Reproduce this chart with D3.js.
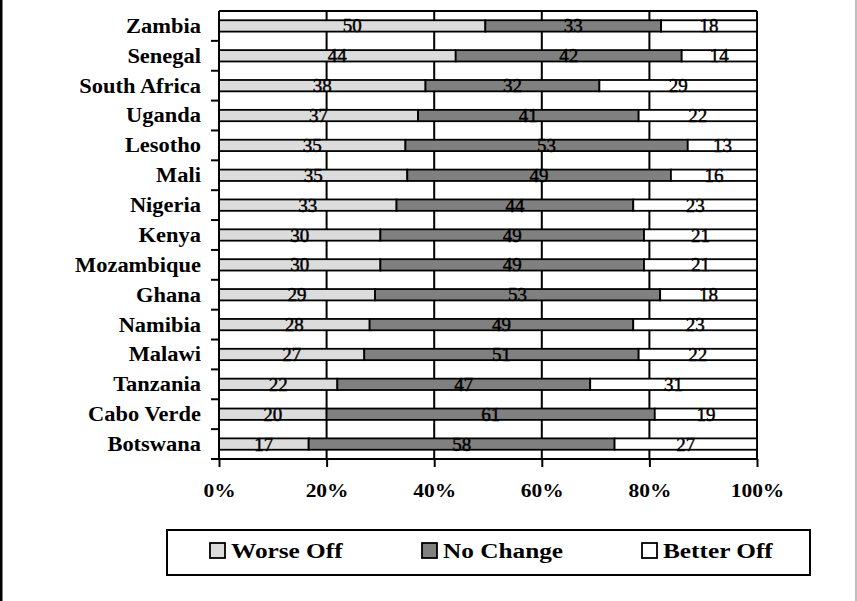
<!DOCTYPE html>
<html>
<head>
<meta charset="utf-8">
<script src="https://cdn.jsdelivr.net/npm/d3@7"></script>
<style>
  html, body { margin: 0; padding: 0; background: #fff; }
  svg { display: block; }
</style>
</head>
<body>
<svg id="chart" width="857" height="601"></svg>
<script>
// Survey responses by country (percent)
const countries = ["Zambia", "Senegal", "South Africa", "Uganda", "Lesotho", "Mali", "Nigeria",
  "Kenya", "Mozambique", "Ghana", "Namibia", "Malawi", "Tanzania", "Cabo Verde", "Botswana"];
const worseOff  = [50, 44, 38, 37, 35, 35, 33, 30, 30, 29, 28, 27, 22, 20, 17];
const noChange  = [33, 42, 32, 41, 53, 49, 44, 49, 49, 53, 49, 51, 47, 61, 58];
const betterOff = [18, 14, 29, 22, 13, 16, 23, 21, 21, 18, 23, 22, 31, 19, 27];
const seriesNames = ["Worse Off", "No Change", "Better Off"];
const seriesColors = ["#dcdcdc", "#808080", "#ffffff"];
const xTicks = [0, 0.2, 0.4, 0.6, 0.8, 1];

const rows = countries.map((c, i) => ({
  country: c,
  "Worse Off": worseOff[i],
  "No Change": noChange[i],
  "Better Off": betterOff[i]
}));

const svg = d3.select("#chart");
const serif = "'Liberation Serif', 'Times New Roman', serif";

// widen glyphs horizontally around their anchor point
function widen(sel, sx) {
  sel.each(function () {
    const t = d3.select(this);
    const ax = +t.attr("x") || 0;
    t.attr("transform", `translate(${ax},0) scale(${sx},1) translate(${-ax},0)`);
  });
}

// outer frame edges
svg.append("rect").attr("x", 0).attr("y", 0).attr("width", 2.5).attr("height", 601).attr("fill", "#000");
svg.append("rect").attr("x", 855.5).attr("y", 0).attr("width", 1).attr("height", 601).attr("fill", "#808080");

const plot = { left: 219, right: 757, top: 11, bottom: 459 };

const x = d3.scaleLinear().domain([0, 1]).range([plot.left, plot.right]);
const y = d3.scaleBand().domain(countries).range([plot.top, plot.bottom])
  .paddingInner(0.62).paddingOuter(0.31);

const stack = d3.stack().keys(seriesNames).offset(d3.stackOffsetExpand);
const layers = stack(rows);

// vertical gridlines and plot border
const grid = svg.append("g");
grid.selectAll("line.g").data(xTicks.slice(1)).join("line")
  .attr("x1", d => x(d)).attr("x2", d => x(d))
  .attr("y1", plot.top).attr("y2", plot.bottom)
  .attr("stroke", "#000").attr("stroke-width", 2);
grid.append("line")
  .attr("x1", plot.left).attr("x2", plot.right)
  .attr("y1", plot.top).attr("y2", plot.top)
  .attr("stroke", "#000").attr("stroke-width", 2);

// stacked bars
const barG = svg.append("g");
layers.forEach((layer, k) => {
  barG.append("g").selectAll("rect").data(layer).join("rect")
    .attr("x", d => x(d[0]))
    .attr("y", d => y(d.data.country))
    .attr("width", d => x(d[1]) - x(d[0]))
    .attr("height", y.bandwidth())
    .attr("fill", seriesColors[k])
    .attr("stroke", "#000")
    .attr("stroke-width", 1.8);
});

// value labels
layers.forEach((layer, k) => {
  svg.append("g").selectAll("text").data(layer).join("text")
    .attr("x", d => (x(d[0]) + x(d[1])) / 2)
    .attr("y", d => y(d.data.country) + y.bandwidth() / 2 + 6.5)
    .attr("text-anchor", "middle")
    .attr("font-family", serif)
    .attr("font-size", 19)
    .attr("fill", "#000")
    .attr("stroke", "#000")
    .attr("stroke-width", 0.45)
    .text(d => d.data[layer.key]);
});

// left axis: country names
const yAxis = svg.append("g").attr("transform", `translate(${plot.left},0)`)
  .call(d3.axisLeft(y).tickSize(0).tickPadding(18));
yAxis.select(".domain").remove();
yAxis.selectAll("text")
  .attr("font-family", serif).attr("font-weight", "bold").attr("font-size", 21)
  .attr("fill", "#000").attr("dy", "0.33em")
  .call(widen, 1.07);

// left axis line with ticks at category boundaries
const boundaries = countries.map(c => y(c) - (y.step() - y.bandwidth()) / 2)
  .concat([plot.bottom]);
svg.append("line")
  .attr("x1", plot.left).attr("x2", plot.left)
  .attr("y1", plot.top).attr("y2", plot.bottom)
  .attr("stroke", "#000").attr("stroke-width", 2);
svg.append("g").selectAll("line").data(boundaries.slice(1)).join("line")
  .attr("x1", plot.left - 8).attr("x2", plot.left)
  .attr("y1", d => d).attr("y2", d => d)
  .attr("stroke", "#000").attr("stroke-width", 2);

// bottom axis
const xAxis = svg.append("g").attr("transform", `translate(0,${plot.bottom})`)
  .call(d3.axisBottom(x).tickValues(xTicks).tickFormat(d3.format(".0%")).tickSize(8).tickPadding(17));
xAxis.select(".domain").attr("stroke", "#000").attr("stroke-width", 2)
  .attr("d", `M${plot.left},0H${plot.right}`);
xAxis.selectAll(".tick line").attr("stroke", "#000").attr("stroke-width", 2);
xAxis.selectAll("text")
  .attr("font-family", serif).attr("font-weight", "bold").attr("font-size", 19)
  .attr("fill", "#000")
  .call(widen, 1.13);

// legend
const legend = svg.append("g");
legend.append("rect")
  .attr("x", 167).attr("y", 530).attr("width", 643).attr("height", 45)
  .attr("fill", "#fff").attr("stroke", "#000").attr("stroke-width", 2);
const legendX = [210, 422, 642];
seriesNames.forEach((name, k) => {
  legend.append("rect")
    .attr("x", legendX[k]).attr("y", 543).attr("width", 15).attr("height", 15)
    .attr("fill", seriesColors[k]).attr("stroke", "#000").attr("stroke-width", 1.8);
  legend.append("text")
    .attr("x", legendX[k] + 21).attr("y", 558)
    .attr("font-family", serif).attr("font-weight", "bold").attr("font-size", 22)
    .attr("fill", "#000")
    .text(name)
    .call(widen, 1.15);
});
</script>
</body>
</html>
